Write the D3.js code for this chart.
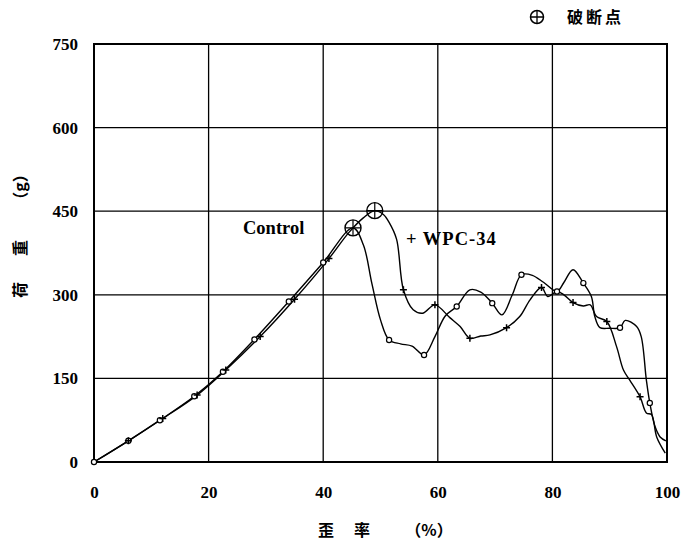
<!DOCTYPE html>
<html lang="zh">
<head>
<meta charset="UTF-8" />
<title>荷重-歪率</title>
<script src="https://d3js.org/d3.v7.min.js"></script>
<style>
  html, body { margin: 0; padding: 0; background: #fff; }
  svg { display: block; }
  .tick text { font-family: "Liberation Serif", serif; font-weight: bold; font-size: 17px; }
  .cjk { font-family: "Noto Sans CJK SC", sans-serif; font-weight: bold; }
  .lbl { font-family: "Liberation Serif", serif; font-weight: bold; font-size: 18.5px; }
</style>
</head>
<body>
<svg width="700" height="543"></svg>
<script>
// Control curve (strain %, load g)
const controlStrain = [0, 6, 11.5, 17.5, 22.5, 28, 34, 40, 45.2, 47, 48.5, 50, 51.5, 53.5, 55.5, 57.6, 59.5, 61.3, 63.3, 65.6, 67.5, 69.5, 71.2, 73, 74.6, 76.5, 78.5, 80.8, 82, 83.6, 85.4, 86.8, 87.4, 88.3, 90, 91.8, 92.7, 94.7, 95.5, 96.4, 97, 97.9, 98.8, 99.8];
const controlLoad   = [0, 38, 75, 118, 162, 220, 288, 358, 420, 390, 320, 255, 219, 212, 208, 192, 225, 262, 279, 309, 305, 285, 264, 300, 336, 335, 322, 306, 322, 345, 321, 297, 261, 241, 240, 241, 254, 243, 225, 147, 106, 64, 45, 38];
// WPC-34 curve
const wpcStrain = [0, 6, 12, 18, 23, 29, 35, 41, 44.5, 47, 49, 50.5, 51.5, 52.8, 54, 55.7, 57.4, 59.5, 62.1, 63.9, 65.6, 67.5, 69.1, 72, 74.3, 76.1, 78.1, 79.2, 80.8, 82, 83.6, 85.4, 86.6, 87.7, 89.5, 91.2, 92.4, 93.5, 95.3, 96.4, 97.3, 98.2, 99.7];
const wpcLoad   = [0, 38, 78, 120, 165, 225, 292, 365, 412, 438, 451, 444, 430, 400, 309, 273, 267, 282, 259, 243, 222, 226, 228, 241, 261, 291, 313, 297, 306, 300, 286, 280, 282, 261, 252, 207, 165, 147, 117, 88, 85, 45, 16];
// marker points
const controlMarkStrain = [0, 6, 11.5, 17.5, 22.5, 28, 34, 40, 51.5, 57.6, 63.3, 69.5, 74.6, 80.8, 85.4, 91.8, 97];
const controlMarkLoad   = [0, 38, 75, 118, 162, 220, 288, 358, 219, 192, 279, 285, 336, 306, 321, 241, 106];
const wpcMarkStrain = [6, 12, 18, 23, 29, 35, 41, 54, 59.5, 65.6, 72, 78.1, 83.6, 89.5, 95.3];
const wpcMarkLoad   = [38, 78, 120, 165, 225, 292, 365, 309, 282, 222, 241, 313, 286, 252, 117];
// break points
const breakStrain = [45.2, 49];
const breakLoad   = [420, 451];

const xTicks = [0, 20, 40, 60, 80, 100];
const yTicks = [0, 150, 300, 450, 600, 750];

const svg = d3.select("svg");
const m = { left: 94, top: 44, right: 667, bottom: 462 };
const x = d3.scaleLinear().domain([0, 100]).range([m.left, m.right]);
const y = d3.scaleLinear().domain([0, 750]).range([m.bottom, m.top]);

// grid
const grid = svg.append("g").attr("stroke", "#000").attr("stroke-width", 1.3);
grid.selectAll("line.v").data(xTicks.slice(1, -1)).join("line")
  .attr("x1", d => x(d)).attr("x2", d => x(d)).attr("y1", m.top).attr("y2", m.bottom);
grid.selectAll("line.h").data(yTicks.slice(1, -1)).join("line")
  .attr("x1", m.left).attr("x2", m.right).attr("y1", d => y(d)).attr("y2", d => y(d));

// frame
svg.append("rect").attr("x", m.left).attr("y", m.top)
  .attr("width", m.right - m.left).attr("height", m.bottom - m.top)
  .attr("fill", "none").attr("stroke", "#000").attr("stroke-width", 2);

// axes (labels only)
const xAxis = svg.append("g").attr("transform", `translate(0,${m.bottom})`)
  .call(d3.axisBottom(x).tickValues(xTicks).tickSize(0).tickPadding(24));
xAxis.select(".domain").remove();
const yAxis = svg.append("g").attr("transform", `translate(${m.left},0)`)
  .call(d3.axisLeft(y).tickValues(yTicks).tickSize(0).tickPadding(16));
yAxis.select(".domain").remove();
svg.selectAll(".tick text").attr("fill", "#000");

// curves
const line = d3.line().x(d => x(d[0])).y(d => y(d[1])).curve(d3.curveCatmullRom.alpha(0.5));
svg.append("path").datum(d3.zip(controlStrain, controlLoad)).attr("d", line)
  .attr("fill", "none").attr("stroke", "#000").attr("stroke-width", 1.4);
svg.append("path").datum(d3.zip(wpcStrain, wpcLoad)).attr("d", line)
  .attr("fill", "none").attr("stroke", "#000").attr("stroke-width", 1.4);

// markers
svg.append("g").selectAll("circle").data(d3.zip(controlMarkStrain, controlMarkLoad)).join("circle")
  .attr("cx", d => x(d[0])).attr("cy", d => y(d[1])).attr("r", 2.6)
  .attr("fill", "#fff").attr("stroke", "#000").attr("stroke-width", 1.2);
svg.append("g").selectAll("path").data(d3.zip(wpcMarkStrain, wpcMarkLoad)).join("path")
  .attr("transform", d => `translate(${x(d[0])},${y(d[1])})`)
  .attr("d", "M-3.5,0H3.5M0,-3.5V3.5")
  .attr("stroke", "#000").attr("stroke-width", 1.5);

// break points
const brk = svg.append("g").selectAll("g").data(d3.zip(breakStrain, breakLoad)).join("g")
  .attr("transform", d => `translate(${x(d[0])},${y(d[1])})`);
brk.append("circle").attr("r", 8).attr("fill", "none").attr("stroke", "#000").attr("stroke-width", 1.4);
brk.append("path").attr("d", "M-8,0H8M0,-8V8").attr("stroke", "#000").attr("stroke-width", 1.2);

// series labels
svg.append("text").attr("class", "lbl").attr("x", 243).attr("y", 234).text("Control");
svg.append("text").attr("class", "lbl").attr("x", 406).attr("y", 245)
  .attr("letter-spacing", 1).attr("xml:space", "preserve").text("+ WPC-34");

// legend
const lg = svg.append("g").attr("transform", "translate(537,17)");
lg.append("circle").attr("r", 6.5).attr("fill", "none").attr("stroke", "#000").attr("stroke-width", 1.5);
lg.append("path").attr("d", "M-6.5,0H6.5M0,-6.5V6.5").attr("stroke", "#000").attr("stroke-width", 1.3);
svg.append("text").attr("class", "cjk").attr("x", 567).attr("y", 23)
  .attr("font-size", 16).attr("letter-spacing", 3).text("破断点");

// axis titles
const xt = svg.append("g").attr("class", "cjk").attr("font-size", 16);
xt.append("text").attr("x", 326).attr("y", 536).attr("text-anchor", "middle").text("歪");
xt.append("text").attr("x", 362).attr("y", 536).attr("text-anchor", "middle").text("率");
xt.append("text").attr("x", 429).attr("y", 536).attr("text-anchor", "middle").text("（%）");
const yt = svg.append("g").attr("class", "cjk").attr("font-size", 16)
  .attr("transform", "translate(26,234) rotate(-90)");
yt.append("text").attr("x", -56).attr("text-anchor", "middle").text("荷");
yt.append("text").attr("x", -14).attr("text-anchor", "middle").text("重");
yt.append("text").attr("x", 47).attr("text-anchor", "middle").text("（g）");
</script>
</body>
</html>
